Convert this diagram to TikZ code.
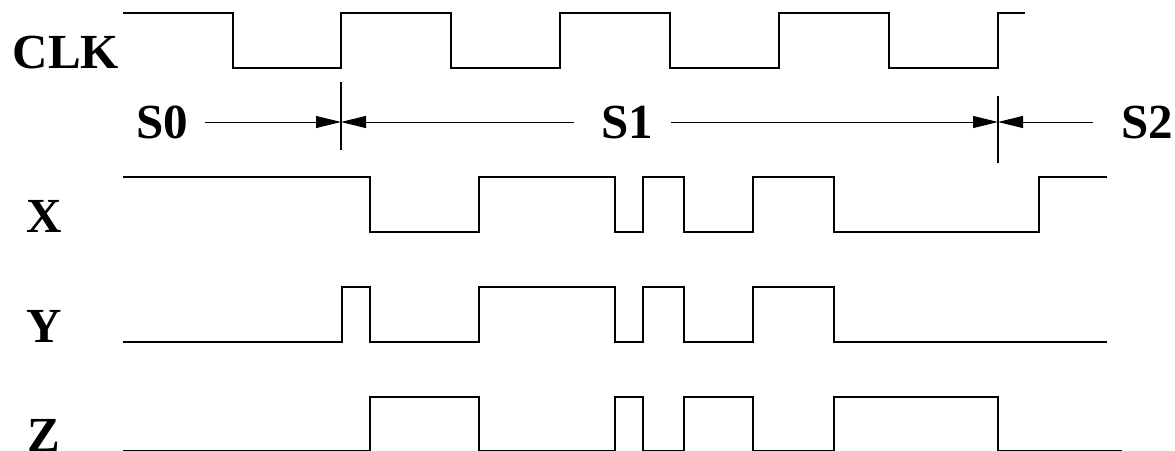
\documentclass[tikz,border=0pt]{standalone}
\usepackage{fontspec}
\setmainfont{Liberation Serif}
\usetikzlibrary{arrows.meta}
\tikzset{
  sig/.style={line width=2.6pt, line join=miter},
  dimline/.style={line width=1pt, -{Triangle[length=25pt,width=12pt]}},
  tick/.style={line width=1.2pt},
  lbl/.style={anchor=base, inner sep=0pt, font=\bfseries\fontsize{49}{49}\selectfont}
}
\begin{document}
\begin{tikzpicture}[x=1pt,y=-1pt]
\useasboundingbox (0,0) rectangle (1175,450);
% labels
\node[lbl] (clk) at (66,68) {CLK};
\node[lbl] (s0) at (162,138) {S0};
\node[lbl] (s1) at (627,138) {S1};
\node[lbl] (s2) at (1147,138) {S2};
\node[lbl] (xl) at (44,232) {X};
\node[lbl] (yl) at (44,342) {Y};
\node[lbl] (zl) at (44,451) {Z};
% waveforms
\draw[sig] (123,13) -| (233,68) -| (341,13) -| (451,68) -| (560,13) -| (670,68) -| (779,13) -| (889,68) -| (998,13) -- (1025,13);
\draw[sig] (123,177) -| (370,232) -| (479,177) -| (615,232) -| (643,177) -| (684,232) -| (753,177) -| (834,232) -| (1039,177) -- (1107,177);
\draw[sig] (123,342) -| (342,287) -| (370,342) -| (479,287) -| (615,342) -| (643,287) -| (684,342) -| (753,287) -| (834,342) -- (1107,342);
\draw[sig] (123,451) -| (370,397) -| (479,451) -| (615,397) -| (643,451) -| (684,397) -| (753,451) -| (834,397) -| (998,451) -- (1122,451);
% state boundaries
\coordinate (t1a) at (341,82);
\coordinate (t1b) at (341,150);
\coordinate (t1) at (341,122);
\coordinate (t2a) at (998,96);
\coordinate (t2b) at (998,163);
\coordinate (t2) at (998,122);
\draw[tick] (t1a) -- (t1b);
\draw[tick] (t2a) -- (t2b);
\coordinate (a0) at (205,122);
\coordinate (a1l) at (574,122);
\coordinate (a1r) at (671,122);
\coordinate (a2) at (1093,122);
\draw[dimline] (a0) -- (t1);
\draw[dimline] (a1l) -- (t1);
\draw[dimline] (a1r) -- (t2);
\draw[dimline] (a2) -- (t2);
\end{tikzpicture}
\end{document}
